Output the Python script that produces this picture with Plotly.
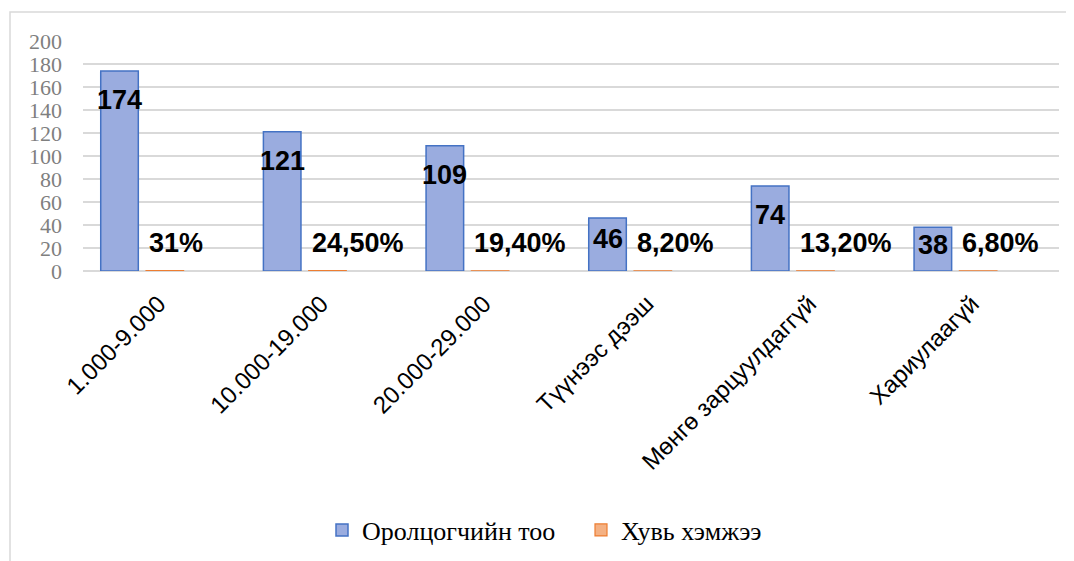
import plotly.graph_objects as go

categories = ["1.000-9.000", "10.000-19.000", "20.000-29.000", "Түүнээс дээш", "Мөнгө зарцуулдаггүй", "Хариулаагүй"]
participants = [174, 121, 109, 46, 74, 38]
shares = [0.31, 0.245, 0.194, 0.082, 0.132, 0.068]
share_labels = ["31%", "24,50%", "19,40%", "8,20%", "13,20%", "6,80%"]
series_names = ["Оролцогчийн тоо", "Хувь хэмжээ"]

# page body adds an 8px margin; compensate so the figure lands where intended
PAGE = 8
W, H = 1074 - PAGE, 561 - PAGE
L, T = 83 - PAGE, 41 - PAGE
plot_right, plot_bottom = 1059 - PAGE, 271 - PAGE
R, B = W - plot_right, H - plot_bottom
plot_h = plot_bottom - T
plot_w = plot_right - L
ymax = 200
px_per_unit = plot_h / ymax

BLUE_OFF, ORANGE_OFF, BAR_W = -0.391, -0.1125, 0.231
TICK_SHIFT = -0.035
xs = list(range(len(categories)))

fig = go.Figure()
fig.add_trace(go.Bar(
    x=xs, y=participants, name=series_names[0],
    offset=BLUE_OFF, width=BAR_W,
    marker=dict(color="#9aacdf", line=dict(color="#4472c4", width=1.5)),
))
fig.add_trace(go.Bar(
    x=xs, y=shares, name=series_names[1],
    offset=ORANGE_OFF, width=BAR_W,
    marker=dict(color="#f4b183", line=dict(color="#ed7d31", width=1.2)),
))

label_font = dict(family="Liberation Sans, Arial", size=27, color="black")
annotations = []
for i, v in enumerate(participants):
    hpx = v * px_per_unit
    annotations.append(dict(
        x=i + BLUE_OFF + BAR_W / 2, y=v, xref="x", yref="y",
        text=f"<b>{v}</b>", showarrow=False, font=label_font,
        xanchor="center", yanchor="middle", yshift=-min(29, 0.4 * hpx),
    ))
for i, (v, t) in enumerate(zip(shares, share_labels)):
    annotations.append(dict(
        x=i + ORANGE_OFF, y=v, xref="x", yref="y",
        text=f"<b>{t}</b>", showarrow=False, font=label_font,
        xanchor="left", yanchor="middle", xshift=1, yshift=28,
    ))

fig.update_layout(
    width=W, height=H,
    margin=dict(l=L, r=R, t=T, b=B, autoexpand=False),
    paper_bgcolor="white", plot_bgcolor="white",
    barmode="overlay",
    showlegend=True,
    legend=dict(
        orientation="h", x=(322 - PAGE - L) / plot_w, xanchor="left",
        y=(plot_bottom - (530 - PAGE)) / plot_h, yanchor="middle",
        font=dict(family="Liberation Serif, Times New Roman", size=26, color="black"),
        itemwidth=30, traceorder="normal",
        entrywidth=214, entrywidthmode="pixels",
    ),
    annotations=annotations,
    shapes=[dict(
        type="rect", xref="paper", yref="paper",
        x0=(10 - PAGE - L) / plot_w, x1=1.2, y0=-2.0, y1=(plot_bottom - (12 - PAGE)) / plot_h,
        line=dict(color="#d9d9d9", width=1.5), fillcolor="rgba(0,0,0,0)", layer="below",
    )],
)
fig.update_xaxes(
    tickmode="array", tickvals=[x + TICK_SHIFT for x in xs], ticktext=categories,
    range=[-0.5, len(categories) - 0.5],
    tickangle=-45, showgrid=False, showline=False, zeroline=False,
    ticks="", automargin=False, ticklabelstandoff=13,
    tickfont=dict(family="Liberation Sans, Arial", size=24, color="black"),
)
fig.update_yaxes(
    range=[0, ymax], dtick=20, showgrid=True, gridcolor="#d9d9d9", gridwidth=1.5,
    zeroline=True, zerolinecolor="#d9d9d9", zerolinewidth=1.5,
    showline=False, ticks="", automargin=False, ticklabelstandoff=20,
    tickfont=dict(family="Liberation Serif, Times New Roman", size=22, color="#7f7f7f"),
)

fig.write_html("out.html")
